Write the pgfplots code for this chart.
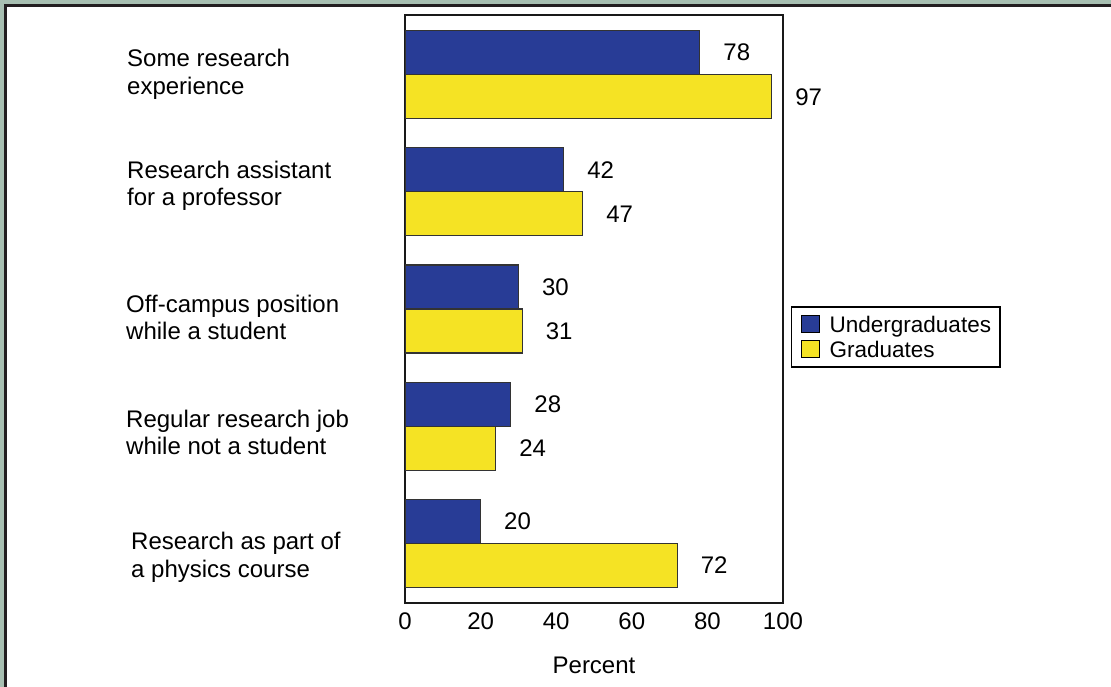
\documentclass[border=0pt]{standalone}
\usepackage{pgfplots}
\pgfplotsset{compat=1.18}
\usepackage{fontspec}
\setmainfont{Liberation Sans}

\definecolor{ugblue}{RGB}{40,60,150}
\definecolor{gyellow}{RGB}{245,227,36}
\definecolor{framegreen}{RGB}{168,192,178}
\definecolor{framedark}{RGB}{35,31,32}

\begin{document}
\begin{tikzpicture}[font=\fontsize{24}{28}\selectfont]
\useasboundingbox (0,0) rectangle (1111pt,-687pt);
% frame: green strip, dark line, white panel
\fill[framegreen] (0,0) rectangle (1111pt,-687pt);
\fill[framedark] (4pt,-4pt) rectangle (1111pt,-687pt);
\fill[white] (7pt,-7pt) rectangle (1111pt,-687pt);

\begin{axis}[
    at={(405pt,-603pt)}, anchor=south west,
    scale only axis, width=378pt, height=588pt,
    xmin=0, xmax=100, ymin=-0.51, ymax=4.51,
    xbar, bar width=44pt,
    xtick={0,20,...,100}, ytick=\empty,
    major tick length=0pt,
    axis line style={line width=2.5pt, black!90},
    /pgf/number format/assume math mode=true,
    tick label style={font=\fontsize{24}{28}\selectfont},
    xticklabel style={inner sep=0pt, yshift=-10pt},
    xlabel={Percent},
    xlabel style={at={(axis description cs:0.5,0)}, anchor=north, inner sep=0pt, yshift=-54pt},
    nodes near coords, point meta=x,
    every node near coord/.append style={anchor=west, inner sep=0pt, xshift=23pt,
        font=\fontsize{24}{28}\selectfont, text=black},
    legend style={at={(rel axis cs:1.021,0.505)}, anchor=north west,
        draw=black, line width=1.5pt, inner xsep=9pt, inner ysep=8pt,
        row sep=6pt, column sep=10pt,
        nodes={inner sep=0pt},
        font=\fontsize{22.5}{26}\selectfont, cells={anchor=base west}},
    legend image code/.code={\draw[#1, draw=black, line width=1pt] (0pt,0pt) rectangle (18pt,17pt);},
]
\addplot[fill=ugblue, draw=black!80, line width=1.2pt, bar shift=22pt]
    coordinates {(78,4) (42,3) (30,2) (28,1) (20,0)};
\addplot[fill=gyellow, draw=black!80, line width=1.2pt, bar shift=-22pt]
    coordinates {(97,4) (47,3) (31,2) (24,1) (72,0)};
\legend{Undergraduates, Graduates}
\end{axis}

% category labels
\begin{scope}[every node/.style={anchor=base west, inner sep=0pt}]
\node at (127pt,-67pt) {Some research};
\node at (127pt,-95pt) {experience};
\node at (127pt,-179pt) {Research assistant};
\node at (127pt,-206pt) {for a professor};
\node at (126pt,-312pt) {Off-campus position};
\node at (126pt,-339pt) {while a student};
\node at (126pt,-427pt) {Regular research job};
\node at (126pt,-454pt) {while not a student};
\node at (131pt,-549pt) {Research as part of};
\node at (131pt,-577pt) {a physics course};
\end{scope}
\end{tikzpicture}
\end{document}
